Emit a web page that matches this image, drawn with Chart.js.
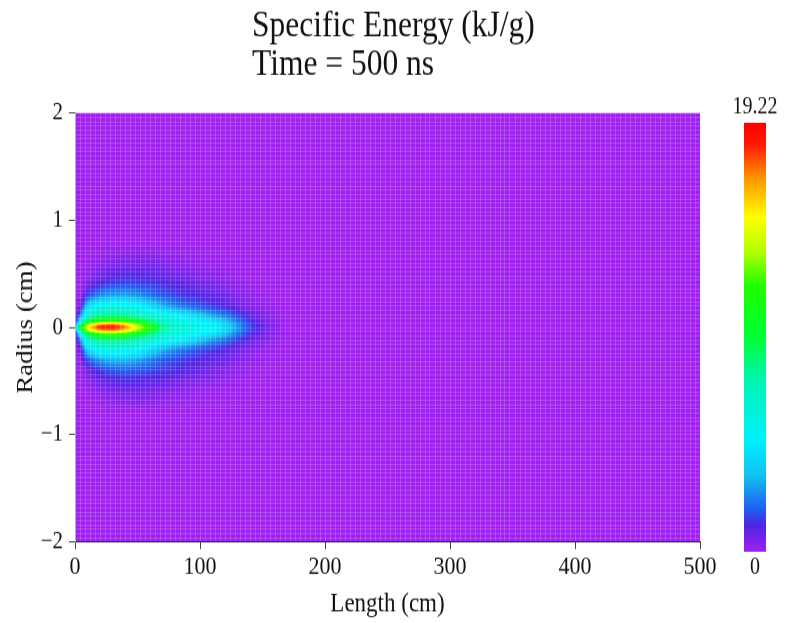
<!DOCTYPE html>
<html>
<head>
<meta charset="utf-8">
<script src="https://cdn.jsdelivr.net/npm/chart.js@4.4.1/dist/chart.umd.min.js"></script>
<style>
  html, body { margin: 0; background: #fff; }
  body { width: 785px; height: 623px; }
  /* the reference picture is stretched vertically, so the canvas is too */
  #chart { transform: scaleY(1.1689); transform-origin: 0 0; }
</style>
</head>
<body>
<canvas id="chart" width="785" height="533"></canvas>
<script>
const titleLines = ["Specific Energy (kJ/g)", "Time = 500 ns"];
const xTicks = [0, 100, 200, 300, 400, 500];
const yTicks = [-2, -1, 0, 1, 2];
const colorbarMin = 0;
const colorbarMax = 19.22;

// energy field (kJ/g); zero everywhere outside this grid
const heatX = [0, 4, 10, 20, 30, 40, 50, 60, 70, 80, 90, 100, 110, 120, 130, 140, 155, 170]; // cm
const heatR = [0.75, 0.62, 0.5, 0.4, 0.3, 0.2, 0.12, 0.06, 0.03, 0, -0.03, -0.06, -0.12, -0.2, -0.3, -0.4, -0.5, -0.62, -0.75]; // cm
const heatValues = [
  [0, 0, 0, 0, 0.1, 0.2, 0.2, 0.2, 0.1, 0.1, 0, 0, 0, 0, 0, 0, 0, 0],
  [0, 0, 0, 0.2, 0.4, 0.5, 0.5, 0.5, 0.4, 0.3, 0.2, 0.1, 0.1, 0, 0, 0, 0, 0],
  [0, 0, 0.2, 0.6, 0.9, 1.0, 1.0, 0.9, 0.8, 0.6, 0.5, 0.4, 0.3, 0.2, 0.1, 0, 0, 0],
  [0, 0, 0.6, 1.3, 1.6, 1.7, 1.6, 1.5, 1.3, 1.1, 0.9, 0.7, 0.6, 0.4, 0.2, 0.1, 0, 0],
  [0, 0.1, 1.6, 2.6, 3.0, 3.0, 2.7, 2.2, 1.8, 1.5, 1.3, 1.1, 0.9, 0.7, 0.4, 0.2, 0, 0],
  [0, 0.6, 4.0, 5.6, 6.0, 5.8, 5.2, 4.2, 3.2, 2.5, 2.0, 1.7, 1.4, 1.1, 0.7, 0.4, 0.1, 0],
  [0, 2.0, 6.5, 7.8, 8.0, 7.7, 7.0, 6.3, 5.7, 5.1, 4.4, 3.6, 2.8, 2.2, 1.5, 0.9, 0.3, 0],
  [0.3, 5.0, 9.5, 11.5, 12.0, 11.5, 10.0, 8.5, 7.0, 6.1, 5.6, 5.0, 4.5, 3.5, 2.3, 1.3, 0.4, 0],
  [1.5, 8.0, 13.0, 16.5, 17.0, 15.5, 13.0, 10.5, 7.8, 6.7, 6.1, 5.6, 5.2, 4.0, 2.7, 1.5, 0.5, 0],
  [6.0, 11.0, 15.5, 19.0, 19.22, 17.5, 14.0, 11.5, 8.0, 6.9, 6.3, 5.8, 5.4, 4.2, 2.8, 1.6, 0.6, 0],
  [1.5, 8.0, 13.0, 16.0, 16.5, 15.0, 12.8, 10.3, 7.7, 6.6, 6.0, 5.5, 5.1, 3.9, 2.6, 1.5, 0.5, 0],
  [0.3, 5.0, 9.8, 11.8, 12.2, 11.6, 10.2, 8.6, 7.1, 6.2, 5.6, 4.9, 4.4, 3.4, 2.2, 1.2, 0.4, 0],
  [0, 2.2, 6.8, 8.1, 8.2, 7.9, 7.2, 6.5, 5.8, 5.1, 4.4, 3.5, 2.7, 2.1, 1.4, 0.8, 0.3, 0],
  [0, 0.8, 4.3, 5.9, 6.3, 6.1, 5.5, 4.4, 3.3, 2.6, 2.1, 1.7, 1.4, 1.1, 0.7, 0.4, 0.1, 0],
  [0, 0.2, 1.8, 2.9, 3.3, 3.3, 3.0, 2.4, 1.9, 1.6, 1.3, 1.1, 0.9, 0.7, 0.4, 0.2, 0, 0],
  [0, 0, 0.7, 1.4, 1.8, 1.9, 1.8, 1.6, 1.4, 1.2, 1.0, 0.8, 0.6, 0.4, 0.2, 0.1, 0, 0],
  [0, 0, 0.3, 0.7, 1.0, 1.1, 1.1, 1.0, 0.9, 0.7, 0.5, 0.4, 0.3, 0.2, 0.1, 0, 0, 0],
  [0, 0, 0, 0.3, 0.5, 0.6, 0.6, 0.5, 0.4, 0.3, 0.2, 0.1, 0.1, 0, 0, 0, 0, 0],
  [0, 0, 0, 0, 0.1, 0.2, 0.2, 0.2, 0.1, 0.1, 0, 0, 0, 0, 0, 0, 0, 0],
];

// colour map, fraction of colorbarMax -> rgb
const colorStops = [
  [0, [160, 32, 240]],
  [0.06, [80, 36, 228]],
  [0.1, [32, 96, 240]],
  [0.14, [24, 144, 240]],
  [0.175, [16, 192, 240]],
  [0.26, [0, 240, 255]],
  [0.4, [0, 245, 180]],
  [0.5, [0, 255, 50]],
  [0.62, [30, 255, 0]],
  [0.7, [180, 255, 0]],
  [0.78, [255, 255, 0]],
  [0.87, [255, 150, 0]],
  [0.95, [255, 25, 0]],
  [1, [255, 0, 0]],
];

const serif = "'Liberation Serif', 'Times New Roman', serif";
const ink = "#111";

function colorAt(t) {
  t = Math.max(0, Math.min(1, t));
  for (let i = 1; i < colorStops.length; i++) {
    const [t1, c1] = colorStops[i];
    if (t <= t1) {
      const [t0, c0] = colorStops[i - 1];
      const f = (t - t0) / (t1 - t0);
      return c0.map((c, k) => Math.round(c + (c1[k] - c) * f));
    }
  }
  return colorStops[colorStops.length - 1][1];
}

// shade the field between the grid nodes (bilinear, like the original plot)
function sampleField(x, r) {
  const nx = heatX.length, nr = heatR.length;
  if (x < heatX[0] || x > heatX[nx - 1] || r > heatR[0] || r < heatR[nr - 1]) return 0;
  let i = 0;
  while (i < nx - 2 && x > heatX[i + 1]) i++;
  let j = 0;
  while (j < nr - 2 && r < heatR[j + 1]) j++;
  const fx = (x - heatX[i]) / (heatX[i + 1] - heatX[i]);
  const fr = (heatR[j] - r) / (heatR[j] - heatR[j + 1]);
  const a = heatValues[j][i], b = heatValues[j][i + 1];
  const c = heatValues[j + 1][i], d = heatValues[j + 1][i + 1];
  return (a * (1 - fx) + b * fx) * (1 - fr) + (c * (1 - fx) + d * fx) * fr;
}

const heatmapPlugin = {
  id: "heatmap",
  beforeDraw(chart) {
    const { ctx, chartArea } = chart;
    const xs = chart.scales.x, ys = chart.scales.y;

    ctx.save();
    ctx.fillStyle = "#fff";
    ctx.fillRect(0, 0, chart.width, chart.height);
    const bg = colorAt(0);
    ctx.fillStyle = `rgb(${bg.join(",")})`;
    ctx.fillRect(chartArea.left, chartArea.top, chartArea.right - chartArea.left, chartArea.bottom - chartArea.top);

    const x0 = Math.floor(xs.getPixelForValue(heatX[0]));
    const x1 = Math.ceil(xs.getPixelForValue(heatX[heatX.length - 1]));
    const y0 = Math.floor(ys.getPixelForValue(heatR[0]));
    const y1 = Math.ceil(ys.getPixelForValue(heatR[heatR.length - 1]));
    const w = x1 - x0, h = y1 - y0;
    const off = document.createElement("canvas");
    off.width = w;
    off.height = h;
    const octx = off.getContext("2d");
    const img = octx.createImageData(w, h);
    for (let j = 0; j < h; j++) {
      const r = ys.getValueForPixel(y0 + j + 0.5);
      for (let i = 0; i < w; i++) {
        const x = xs.getValueForPixel(x0 + i + 0.5);
        const v = sampleField(x, r);
        const c = colorAt((v - colorbarMin) / (colorbarMax - colorbarMin));
        const k = (j * w + i) * 4;
        img.data[k] = c[0];
        img.data[k + 1] = c[1];
        img.data[k + 2] = c[2];
        img.data[k + 3] = 255;
      }
    }
    octx.putImageData(img, 0, 0);
    ctx.beginPath();
    ctx.rect(chartArea.left, chartArea.top, chartArea.right - chartArea.left, chartArea.bottom - chartArea.top);
    ctx.clip();
    ctx.drawImage(off, x0, y0);
    ctx.restore();
  },
  afterDraw(chart) {
    const { ctx } = chart;
    ctx.save();
    ctx.fillStyle = ink;
    ctx.textAlign = "left";
    ctx.textBaseline = "alphabetic";
    ctx.font = `31.5px ${serif}`;
    ctx.fillText(titleLines[0], 252, 31);
    ctx.fillText(titleLines[1], 252, 63.5);

    // colour bar
    const left = 744, right = 766, top = 105, bottom = 472;
    const grad = ctx.createLinearGradient(0, bottom, 0, top);
    colorStops.forEach(([t, c]) => grad.addColorStop(t, `rgb(${c.join(",")})`));
    ctx.fillStyle = grad;
    ctx.fillRect(left, top, right - left, bottom - top);
    ctx.fillStyle = ink;
    ctx.textAlign = "center";
    ctx.textBaseline = "middle";
    ctx.font = `20px ${serif}`;
    ctx.fillText(String(colorbarMax), (left + right) / 2, 92);
    ctx.fillText(String(colorbarMin), (left + right) / 2, 486);
    ctx.restore();
  },
};

const tickFont = { family: serif, size: 22 };
const titleFont = { family: serif, size: 23 };

new Chart(document.getElementById("chart"), {
  type: "scatter",
  data: { datasets: [{ label: "Specific Energy", data: [], pointRadius: 0 }] },
  plugins: [heatmapPlugin],
  options: {
    responsive: false,
    animation: false,
    events: [],
    layout: { padding: { top: 96.7, right: 85, left: 0, bottom: 0 } },
    plugins: { legend: { display: false }, tooltip: { enabled: false }, title: { display: false } },
    scales: {
      x: {
        type: "linear",
        position: "bottom",
        min: 0,
        max: 500,
        afterBuildTicks: (s) => { s.ticks = xTicks.map((v) => ({ value: v })); },
        afterFit: (s) => { s.height = 69.3; },
        ticks: { font: tickFont, color: ink, padding: 2, maxRotation: 0, autoSkip: false },
        grid: { drawOnChartArea: false, tickLength: 6, color: "#444" },
        border: { color: "#3a2a40" },
        title: { display: true, text: "Length (cm)", font: titleFont, color: ink, padding: { top: 0, bottom: 2 } },
      },
      y: {
        type: "linear",
        position: "left",
        min: -2,
        max: 2,
        afterBuildTicks: (s) => { s.ticks = yTicks.map((v) => ({ value: v })); },
        afterFit: (s) => { s.width = 75; },
        ticks: {
          font: { family: serif, size: 21 },
          color: ink,
          padding: 6,
          callback: (v) => String(v).replace("-", "\u2212"),
        },
        grid: { drawOnChartArea: false, tickLength: 6, color: "#444" },
        border: { color: "#b0b0b0" },
        title: { display: true, text: "Radius (cm)", font: titleFont, color: ink, padding: { top: 12, bottom: 0 } },
      },
      // fine mesh lines that show through the shading in the original
      meshX: {
        type: "linear",
        position: "top",
        min: 0,
        max: 500,
        afterFit: (s) => { s.height = 0; },
        ticks: { display: false, stepSize: 4, maxTicksLimit: 200 },
        grid: { color: "rgba(255,255,255,0.17)", drawTicks: false },
        border: { display: false },
      },
      meshY: {
        type: "linear",
        position: "right",
        min: -2,
        max: 2,
        afterFit: (s) => { s.width = 0; },
        ticks: { display: false, stepSize: 0.04, maxTicksLimit: 200 },
        grid: { color: "rgba(255,255,255,0.17)", drawTicks: false },
        border: { display: false },
      },
    },
  },
});
</script>
</body>
</html>
